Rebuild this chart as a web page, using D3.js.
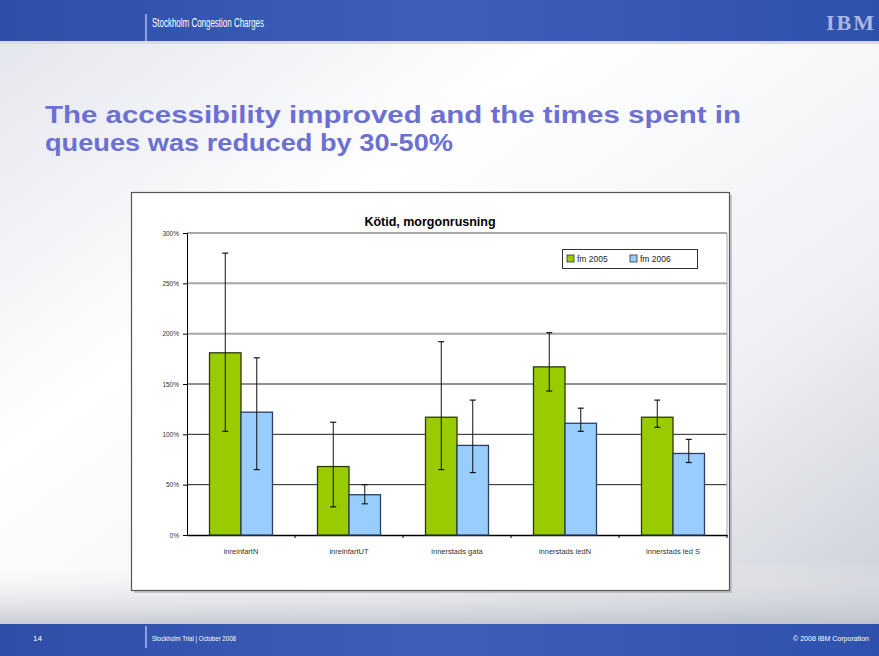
<!DOCTYPE html>
<html><head><meta charset="utf-8">
<script src="https://cdn.jsdelivr.net/npm/d3@7"></script>
<style>body{margin:0;padding:0;overflow:hidden;background:#fff}svg{display:block}</style>
</head><body>
<svg id="c" width="879" height="656"></svg>
<script>
const categories = ["inreinfartN", "inreinfartUT", "innerstads gata", "innerstads ledN", "innerstads led S"];
const seriesNames = ["fm 2005", "fm 2006"];
const values2005 = [1.81, 0.68, 1.17, 1.67, 1.17];
const low2005 = [1.03, 0.28, 0.65, 1.43, 1.07];
const high2005 = [2.80, 1.12, 1.92, 2.01, 1.34];
const values2006 = [1.22, 0.40, 0.89, 1.11, 0.81];
const low2006 = [0.65, 0.31, 0.62, 1.03, 0.72];
const high2006 = [1.76, 0.50, 1.34, 1.26, 0.95];
const yTicks = [0, 0.5, 1, 1.5, 2, 2.5, 3];
const colors = ["#99cc00", "#99ccff"];

const svg = d3.select("#c");
const defs = svg.append("defs");
const ff = "Arial, Liberation Sans, sans-serif";

// slide background
const bg = defs.append("linearGradient").attr("id","bg").attr("x1","0").attr("y1","0").attr("x2","1").attr("y2","1");
bg.append("stop").attr("offset","0").attr("stop-color","#e2e4ec");
bg.append("stop").attr("offset","0.35").attr("stop-color","#ffffff");
bg.append("stop").attr("offset","0.7").attr("stop-color","#eef0f4");
bg.append("stop").attr("offset","1").attr("stop-color","#c9ccd4");
svg.append("rect").attr("width",879).attr("height",656).attr("fill","url(#bg)");
const bg2 = defs.append("linearGradient").attr("id","bg2").attr("x1","0").attr("y1","0").attr("x2","0").attr("y2","1");
bg2.append("stop").attr("offset","0").attr("stop-color","#ffffff").attr("stop-opacity","0");
bg2.append("stop").attr("offset","1").attr("stop-color","#b9bdc7").attr("stop-opacity","0.8");
svg.append("rect").attr("y",560).attr("width",879).attr("height",66).attr("fill","url(#bg2)");

// header bar
const hb = defs.append("linearGradient").attr("id","hb").attr("x1","0").attr("y1","0").attr("x2","1").attr("y2","0");
hb.append("stop").attr("offset","0").attr("stop-color","#2e4ea8");
hb.append("stop").attr("offset","0.5").attr("stop-color","#3d5fba");
hb.append("stop").attr("offset","1").attr("stop-color","#2f51ae");
svg.append("rect").attr("x",0).attr("y",0).attr("width",879).attr("height",41).attr("fill","url(#hb)");
svg.append("rect").attr("x",0).attr("y",41).attr("width",879).attr("height",3).attr("fill","#d8dbe6");
svg.append("line").attr("x1",146).attr("x2",146).attr("y1",14).attr("y2",42).attr("stroke","#e8ecf8").attr("stroke-width",1);
svg.append("text").attr("x",152).attr("y",27).attr("fill","#ffffff").attr("font-family",ff).attr("font-size",12)
  .attr("textLength",112).attr("lengthAdjust","spacingAndGlyphs").text("Stockholm Congestion Charges");
svg.append("text").attr("x",874).attr("y",30).attr("text-anchor","end").attr("fill","#aab8e0").attr("font-family","Liberation Serif, serif").attr("font-weight","bold").attr("font-size",22).attr("textLength",48).text("IBM");

// footer bar
svg.append("rect").attr("x",0).attr("y",624).attr("width",879).attr("height",32).attr("fill","url(#hb)");
svg.append("line").attr("x1",146).attr("x2",146).attr("y1",626).attr("y2",648).attr("stroke","#e8ecf8");
svg.append("text").attr("x",33).attr("y",641).attr("fill","#fff").attr("font-family",ff).attr("font-size",8).text("14");
svg.append("text").attr("x",152).attr("y",641).attr("fill","#fff").attr("font-family",ff).attr("font-size",8)
  .attr("textLength",84).attr("lengthAdjust","spacingAndGlyphs").text("Stockholm Trial | October 2008");
svg.append("text").attr("x",869).attr("y",641).attr("text-anchor","end").attr("fill","#fff").attr("font-family",ff).attr("font-size",8)
  .attr("textLength",76).attr("lengthAdjust","spacingAndGlyphs").text("© 2008 IBM Corporation");

// slide title
svg.append("text").attr("x",45).attr("y",123).attr("fill","#6b70d2").attr("font-family",ff).attr("font-weight","bold").attr("font-size",24).attr("textLength",696).attr("lengthAdjust","spacingAndGlyphs").text("The accessibility improved and the times spent in");
svg.append("text").attr("x",45).attr("y",151).attr("fill","#6b70d2").attr("font-family",ff).attr("font-weight","bold").attr("font-size",24).attr("textLength",408).attr("lengthAdjust","spacingAndGlyphs").text("queues was reduced by 30-50%");

// chart box
svg.append("rect").attr("x",134).attr("y",195).attr("width",598).attr("height",398).attr("fill","#9a9ca2").attr("opacity",0.5);
svg.append("rect").attr("x",131.5).attr("y",192.5).attr("width",598).attr("height",398).attr("fill","#ffffff").attr("stroke","#555").attr("stroke-width",1.2);

svg.append("text").attr("x",430).attr("y",226).attr("text-anchor","middle").attr("font-family",ff).attr("font-weight","bold").attr("font-size",12.5).attr("fill","#000").text("Kötid, morgonrusning");

const x = d3.scaleBand().domain(categories).range([187, 727]).paddingInner(0).paddingOuter(0);
const xs = d3.scaleBand().domain(seriesNames).range([0, 63]);
const y = d3.scaleLinear().domain([0, 3]).range([535, 233]);

const g = svg.append("g");
// gridlines
g.selectAll("line.grid").data(yTicks.filter(d => d > 0)).join("line")
  .attr("x1", 187).attr("x2", 727).attr("y1", d => y(d)).attr("y2", d => y(d))
  .attr("stroke", d => d >= 2 ? "#a8a8a8" : "#222").attr("stroke-width", d => d >= 2 ? 2 : 1);
g.append("line").attr("x1",727).attr("x2",727).attr("y1",233).attr("y2",535).attr("stroke","#a8a8a8").attr("stroke-width",1);

// y axis
const yAxis = d3.axisLeft(y).tickValues(yTicks).tickFormat(d => d3.format(".0%")(d)).tickSize(4).tickPadding(4);
const ya = g.append("g").attr("transform","translate(187,0)").call(yAxis);
ya.select(".domain").attr("stroke","#000");
ya.selectAll(".tick line").attr("stroke","#000");
ya.selectAll("text").attr("font-family",ff).attr("font-size",6.5).attr("fill","#333");

// x axis
const xAxis = d3.axisBottom(x).tickSize(0).tickPadding(14);
const xa = g.append("g").attr("transform","translate(0,535)").call(xAxis);
xa.select(".domain").attr("stroke","#000").attr("stroke-width",1.5);
xa.selectAll("text").attr("font-family",ff).attr("font-size",7.5).attr("fill","#333");
g.selectAll("line.xt").data(categories.slice(1).concat(["end"])).join("line")
  .attr("x1", (d,i) => 187 + x.step()*(i+1)).attr("x2", (d,i) => 187 + x.step()*(i+1))
  .attr("y1",535).attr("y2",538).attr("stroke","#000");

// bars
const rows = categories.map((c,i) => ({c, s:[
  {n: seriesNames[0], v: values2005[i], lo: low2005[i], hi: high2005[i]},
  {n: seriesNames[1], v: values2006[i], lo: low2006[i], hi: high2006[i]}]}));
const grp = g.selectAll("g.cat").data(rows).join("g").attr("class","cat")
  .attr("transform", d => `translate(${x(d.c) + (x.bandwidth() - 63)/2},0)`);
grp.selectAll("rect").data(d => d.s).join("rect")
  .attr("x", d => xs(d.n)).attr("width", xs.bandwidth())
  .attr("y", d => y(d.v)).attr("height", d => y(0) - y(d.v))
  .attr("fill", (d,i) => colors[i])
  .attr("stroke", (d,i) => i === 0 ? "#2a3a10" : "#2a3f66").attr("stroke-width", 1.3);
// error bars
grp.selectAll("line.eb").data(d => d.s).join("line").attr("class","eb")
  .attr("x1", d => xs(d.n) + xs.bandwidth()/2).attr("x2", d => xs(d.n) + xs.bandwidth()/2)
  .attr("y1", d => y(d.lo)).attr("y2", d => y(d.hi)).attr("stroke","#111").attr("stroke-width",1);
grp.selectAll("line.cap1").data(d => d.s).join("line").attr("class","cap1")
  .attr("x1", d => xs(d.n) + xs.bandwidth()/2 - 3).attr("x2", d => xs(d.n) + xs.bandwidth()/2 + 3)
  .attr("y1", d => y(d.hi)).attr("y2", d => y(d.hi)).attr("stroke","#111").attr("stroke-width",1.2);
grp.selectAll("line.cap2").data(d => d.s).join("line").attr("class","cap2")
  .attr("x1", d => xs(d.n) + xs.bandwidth()/2 - 3).attr("x2", d => xs(d.n) + xs.bandwidth()/2 + 3)
  .attr("y1", d => y(d.lo)).attr("y2", d => y(d.lo)).attr("stroke","#111").attr("stroke-width",1.2);

// legend
const lg = svg.append("g").attr("transform","translate(562,249)");
lg.append("rect").attr("x",0.5).attr("y",0.5).attr("width",135).attr("height",19).attr("fill","#fff").attr("stroke","#333");
seriesNames.forEach((n,i) => {
  const it = lg.append("g").attr("transform",`translate(${5 + i*63},6)`);
  it.append("rect").attr("width",7).attr("height",7).attr("fill",colors[i]).attr("stroke","#333").attr("stroke-width",0.8);
  it.append("text").attr("x",10).attr("y",7).attr("font-family",ff).attr("font-size",8.5).attr("fill","#222").text(n);
});
</script>
</body></html>
